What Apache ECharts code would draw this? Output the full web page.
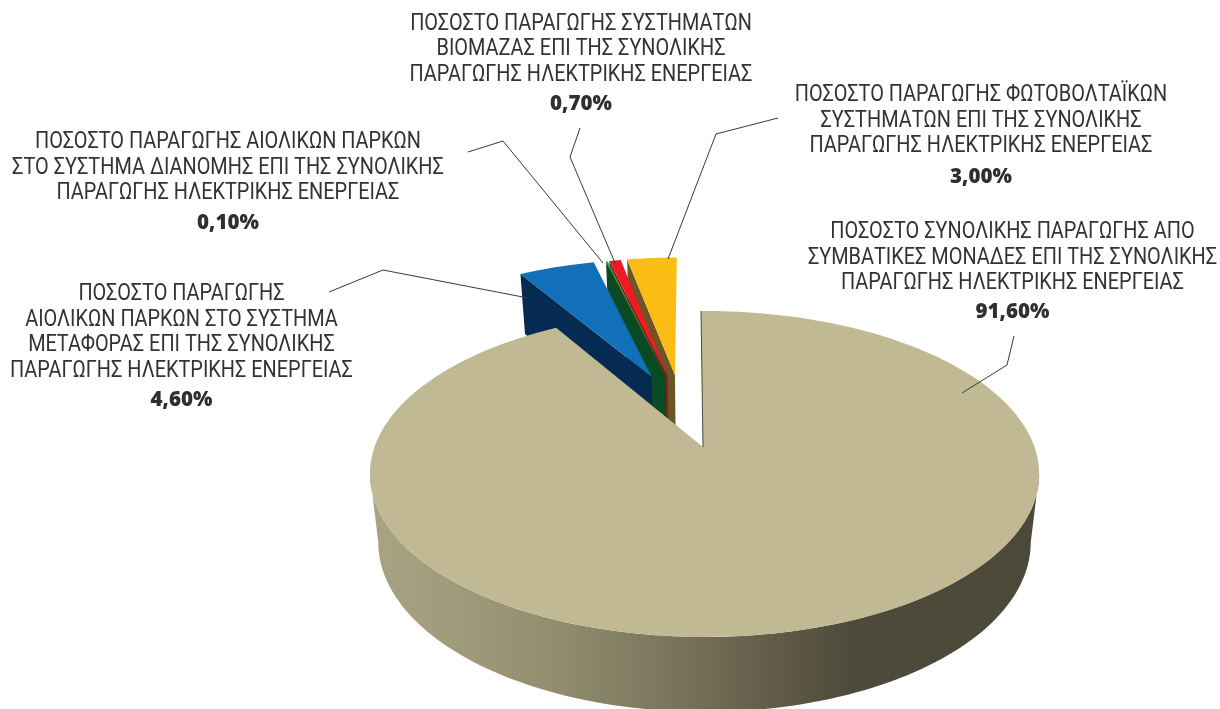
<!DOCTYPE html>
<html><head><meta charset="utf-8">
<style>html,body{margin:0;padding:0;background:#fff}#c{width:1220px;height:709px}</style>
<script src="https://cdn.jsdelivr.net/npm/echarts@6/dist/echarts.min.js"></script>
</head><body><div id="c"></div>
<script>
// ---- data, clockwise from the top of the pie ----
const categories = [
  'ΠΟΣΟΣΤΟ ΣΥΝΟΛΙΚΗΣ ΠΑΡΑΓΩΓΗΣ ΑΠΟ\nΣΥΜΒΑΤΙΚΕΣ ΜΟΝΑΔΕΣ ΕΠΙ ΤΗΣ ΣΥΝΟΛΙΚΗΣ\nΠΑΡΑΓΩΓΗΣ ΗΛΕΚΤΡΙΚΗΣ ΕΝΕΡΓΕΙΑΣ',
  'ΠΟΣΟΣΤΟ ΠΑΡΑΓΩΓΗΣ\nΑΙΟΛΙΚΩΝ ΠΑΡΚΩΝ ΣΤΟ ΣΥΣΤΗΜΑ\nΜΕΤΑΦΟΡΑΣ ΕΠΙ ΤΗΣ ΣΥΝΟΛΙΚΗΣ\nΠΑΡΑΓΩΓΗΣ ΗΛΕΚΤΡΙΚΗΣ ΕΝΕΡΓΕΙΑΣ',
  'ΠΟΣΟΣΤΟ ΠΑΡΑΓΩΓΗΣ ΑΙΟΛΙΚΩΝ ΠΑΡΚΩΝ\nΣΤΟ ΣΥΣΤΗΜΑ ΔΙΑΝΟΜΗΣ ΕΠΙ ΤΗΣ ΣΥΝΟΛΙΚΗΣ\nΠΑΡΑΓΩΓΗΣ ΗΛΕΚΤΡΙΚΗΣ ΕΝΕΡΓΕΙΑΣ',
  'ΠΟΣΟΣΤΟ ΠΑΡΑΓΩΓΗΣ ΣΥΣΤΗΜΑΤΩΝ\nΒΙΟΜΑΖΑΣ ΕΠΙ ΤΗΣ ΣΥΝΟΛΙΚΗΣ\nΠΑΡΑΓΩΓΗΣ ΗΛΕΚΤΡΙΚΗΣ ΕΝΕΡΓΕΙΑΣ',
  'ΠΟΣΟΣΤΟ ΠΑΡΑΓΩΓΗΣ ΦΩΤΟΒΟΛΤΑΪΚΩΝ\nΣΥΣΤΗΜΑΤΩΝ ΕΠΙ ΤΗΣ ΣΥΝΟΛΙΚΗΣ\nΠΑΡΑΓΩΓΗΣ ΗΛΕΚΤΡΙΚΗΣ ΕΝΕΡΓΕΙΑΣ'
];
const values = [91.6, 4.6, 0.1, 0.7, 3.0];

// ---- styling and layout ----
const topColors  = ['#c0b993', '#1170b9', '#22a650', '#ed1c24', '#fbbc13'];
const wallColors = ['#6f6b55', '#062b52', '#0a4a22', '#8c1c14', '#6b5426'];
const paintOrder = [50, 40, 30, 20, 10];
const explodeAmount = [0, 0.505, 0.5, 0.5, 0.5];
const explodeDir = [0, 19.4, 14.1, 13.4, 10.6];      // degrees left of the top
const labelCentre = [1012.5, 181.5, 228, 581, 981];
const labelFirstY = [232, 294, 142, 23.5, 95];
const valueY = [312, 400, 223, 104, 177];
const lineGap = 25.5;
const leaders = [
  [[1014,336],[1007,365],[962,393]],
  [[329,292],[383,270],[528,298]],
  [[468,152],[503,141],[603,263]],
  [[580,128],[570,157],[615,263]],
  [[778,118],[716,134],[668,259]]
];
const FONT_LINE = '400 23px Roboto, sans-serif';
const LINE_SQUEEZE = 0.865;
const FONT_VALUE = '800 20.5px "Open Sans", Roboto, sans-serif';

// pie projection: a perspective view of the disc
const CX = 703, CY = 447, A = 330, B = 158.5, K = 0.1656, M = -0.0045, ROT = -0.4;
const project = (X, Y) => {
  const d = 1 + K * Y + M * X;
  return [CX + A * X / d, CY - B * Y / d];
};
const lower = p => [CX + (p[0] - CX) * 0.975, 1.041 * p[1] + 48.8];
const unit = deg => [Math.sin(deg * Math.PI / 180), Math.cos(deg * Math.PI / 180)];
const total = values.reduce((a, b) => a + b, 0);

function arc(from, to, off) {
  const n = Math.max(2, Math.ceil(Math.abs(to - from) / 1.5));
  const out = [];
  for (let i = 0; i <= n; i++) {
    const u = unit(from + (to - from) * i / n);
    out.push(project(off[0] + u[0], off[1] + u[1]));
  }
  return out;
}
const poly = (points, fill, z2) => ({ type: 'polygon', shape: { points }, style: { fill }, z2, silent: true });

function renderItem(params, api) {
  const i = params.dataIndex;
  let before = 0;
  for (let j = 0; j < i; j++) before += values[j];
  const start = ROT + before / total * 360;
  const end = start + api.value(0) / total * 360;
  const dir = unit(-explodeDir[i]);
  const off = [dir[0] * explodeAmount[i], dir[1] * explodeAmount[i]];
  const apex = project(off[0], off[1]);
  const z = paintOrder[i];
  const children = [];
  const rim = arc(start, end, off);
  if (i === 0) {
    const front = arc(99.5, 260.5, off);
    const wallPts = front.concat(front.map(lower).reverse());
    children.push({
      type: 'polygon', shape: { points: wallPts }, z2: z,  silent: true,
      style: { fill: new echarts.graphic.LinearGradient(0, 0, 1, 0, [
        { offset: 0, color: '#a8a483' }, { offset: 0.12, color: '#a09c7b' },
        { offset: 0.28, color: '#918c6d' }, { offset: 0.42, color: '#7e7a60' },
        { offset: 0.55, color: '#69654f' }, { offset: 0.64, color: '#5a5643' },
        { offset: 0.72, color: '#4e4b3b' }, { offset: 1, color: '#4c493a' }]) }
    });
    children.push(poly([apex].concat(rim), topColors[i], z + 1));
    children.push({
      type: 'line', z2: z + 2, silent: true,
      shape: { x1: rim[0][0], y1: rim[0][1], x2: apex[0], y2: apex[1] },
      style: { stroke: '#4a483a', lineWidth: 1 }
    });
  } else {
    const outer = rim[0];
    const wall = [outer, apex, lower(apex), lower(outer)];
    children.push(poly(wall, wallColors[i], z));
    children.push(poly([apex].concat(rim), topColors[i], z + 1));
  }
  children.push({ type: 'polyline', shape: { points: leaders[i] }, z2: 60, silent: true,
    style: { stroke: '#3a3a3a', lineWidth: 1, fill: null } });
  categories[i].split('\n').forEach((line, k) => {
    children.push({ type: 'text', z2: 70, silent: true, x: labelCentre[i], y: labelFirstY[i] + 0.5 + k * lineGap, scaleX: LINE_SQUEEZE,
      style: { text: line, font: FONT_LINE, fill: '#333333', align: 'center', verticalAlign: 'middle' } });
  });
  children.push({ type: 'text', z2: 70, silent: true, x: labelCentre[i], y: valueY[i],
    style: { text: api.value(0).toFixed(2).replace('.', ',') + '%', font: FONT_VALUE, fill: '#2f2f2f', align: 'center', verticalAlign: 'middle' } });
  return { type: 'group', children };
}

const chart = echarts.init(document.getElementById('c'), null, { renderer: 'canvas' });
chart.setOption({
  animation: false,
  backgroundColor: '#ffffff',
  series: [{ type: 'custom', coordinateSystem: 'none', renderItem, data: values.map(v => [v]), clip: false }]
});
</script></body></html>
